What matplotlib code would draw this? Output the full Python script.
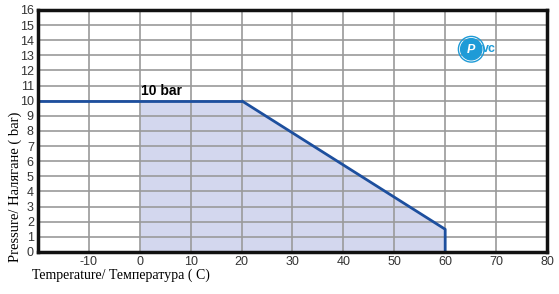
import matplotlib
matplotlib.use("Agg")
import matplotlib.pyplot as plt
from matplotlib.patches import Circle

# data
temp_const = [-20, 20]
press_const = [10, 10]
temp_derate = [20, 60, 60]
press_derate = [10, 1.5, 0]
fill_temp = [0, 20, 60, 60]
fill_press = [10, 10, 1.5, 0]
x_ticks = [-20, -10, 0, 10, 20, 30, 40, 50, 60, 70, 80]
x_labels = ["", "-10", "0", "10", "20", "30", "40", "50", "60", "70", "80"]
y_ticks = list(range(0, 17))

line_col = "#1d4f9e"
fill_col = "#d3d7ee"
grid_col = "#9a9a9a"
logo_col = "#1e9bd7"
tick_font = ["Liberation Sans", "DejaVu Sans"]

fig = plt.figure(figsize=(5.59, 2.94), dpi=100)
ax = fig.add_axes([0.068, 0.143, 0.9105, 0.823])

ax.fill_between(fill_temp, fill_press, 0, color=fill_col, lw=0, zorder=1)
ax.plot(temp_const, press_const, color=line_col, lw=2, zorder=3, solid_capstyle="butt")
ax.plot(temp_derate, press_derate, color=line_col, lw=2, zorder=3, solid_capstyle="butt")

ax.set_xlim(-20, 80)
ax.set_ylim(0, 16)
ax.set_xticks(x_ticks)
ax.set_xticklabels(x_labels)
ax.set_yticks(y_ticks)
ax.grid(True, color=grid_col, lw=1.2, zorder=2)
for lab in ax.get_xticklabels() + ax.get_yticklabels():
    lab.set_family(tick_font)
    lab.set_fontsize(9)
    lab.set_color("#333333")
ax.tick_params(length=0, pad=3)
for sp in ax.spines.values():
    sp.set_linewidth(2.5)
    sp.set_color("#111111")
    sp.set_zorder(5)

ax.text(0.2, 10.2, "10 bar", fontsize=10, fontweight="bold", family=tick_font,
        ha="left", va="bottom", zorder=4)

# PVC logo
logo_ax = fig.add_axes([0.818, 0.785, 0.05, 0.095])
logo_ax.axis("off")
logo_ax.set_xlim(0, 1)
logo_ax.set_ylim(0, 1)
logo_ax.set_aspect("equal")
logo_ax.add_patch(Circle((0.5, 0.5), 0.46, color=logo_col, fill=False, lw=1))
logo_ax.add_patch(Circle((0.5, 0.5), 0.38, color=logo_col))
logo_ax.text(0.5, 0.47, "P", color="white", fontsize=9, fontweight="bold",
             ha="center", va="center", style="italic", family=tick_font)
fig.text(0.862, 0.833, "vc", color=logo_col, fontsize=9, fontweight="bold",
         ha="left", va="center", family=tick_font)

fig.text(0.057, 0.065, "Temperature/ Температура ( C)", family="Liberation Serif",
         fontsize=10, ha="left", va="center")
fig.text(0.027, 0.11, "Pressure/ Налягане ( bar)", family="Liberation Serif",
         fontsize=10.5, rotation=90, ha="center", va="bottom")

fig.savefig("out.png", dpi=100)
